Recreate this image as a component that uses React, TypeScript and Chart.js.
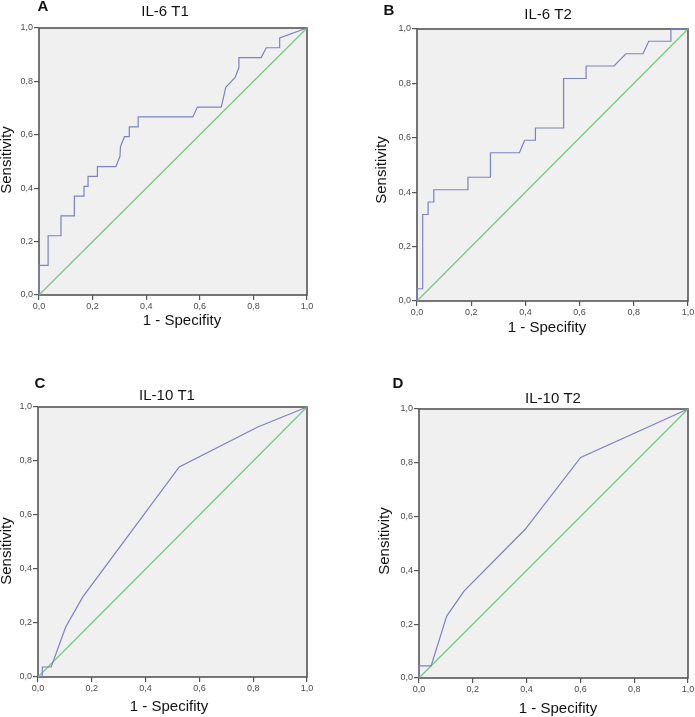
import React, { useEffect, useRef } from 'react';
import { Chart, registerables } from 'chart.js';

Chart.register(...registerables);

// ---------- data ----------
const tickLabels = ['0,0', '0,2', '0,4', '0,6', '0,8', '1,0'];
const panelLetters = ['A', 'B', 'C', 'D'];
const panelTitles = ['IL-6 T1', 'IL-6 T2', 'IL-10 T1', 'IL-10 T2'];
const xAxisTitle = '1 - Specifity';
const yAxisTitle = 'Sensitivity';

const refX = [0, 1];
const refY = [0, 1];

const il6T1X = [0, 0, 0.034, 0.034, 0.082, 0.082, 0.132, 0.132, 0.168, 0.168, 0.183, 0.183, 0.218, 0.218, 0.287, 0.302, 0.304, 0.319, 0.337, 0.337, 0.37, 0.37, 0.574, 0.591, 0.68, 0.697, 0.732, 0.746, 0.746, 0.829, 0.848, 0.898, 0.898, 1];
const il6T1Y = [0, 0.111, 0.111, 0.222, 0.222, 0.296, 0.296, 0.37, 0.37, 0.407, 0.407, 0.444, 0.444, 0.481, 0.481, 0.519, 0.556, 0.593, 0.593, 0.63, 0.63, 0.667, 0.667, 0.704, 0.704, 0.778, 0.815, 0.852, 0.889, 0.889, 0.926, 0.926, 0.963, 1];

const il6T2X = [0, 0, 0.021, 0.021, 0.041, 0.041, 0.062, 0.062, 0.188, 0.188, 0.271, 0.271, 0.378, 0.397, 0.437, 0.437, 0.541, 0.541, 0.624, 0.624, 0.727, 0.771, 0.834, 0.855, 0.937, 0.937, 1];
const il6T2Y = [0, 0.045, 0.045, 0.318, 0.318, 0.364, 0.364, 0.409, 0.409, 0.455, 0.455, 0.545, 0.545, 0.591, 0.591, 0.636, 0.636, 0.818, 0.818, 0.864, 0.864, 0.909, 0.909, 0.955, 0.955, 1, 1];

const il10T1X = [0, 0.016, 0.016, 0.049, 0.103, 0.166, 0.525, 0.817, 1];
const il10T1Y = [0, 0, 0.037, 0.037, 0.185, 0.296, 0.778, 0.926, 1];

const il10T2X = [0, 0, 0.045, 0.103, 0.168, 0.394, 0.601, 1];
const il10T2Y = [0, 0.045, 0.045, 0.23, 0.324, 0.552, 0.82, 1];

const curvesX = [il6T1X, il6T2X, il10T1X, il10T2X];
const curvesY = [il6T1Y, il6T2Y, il10T1Y, il10T2Y];

// ---------- layout ----------
const W = 695;
const H = 717;
const layouts = [
  { l: 39, t: 28, r: 307, b: 295, yTitle: [7, 160], xTitle: [182, 321], letter: [43, 7], title: [165, 12] },
  { l: 417, t: 29, r: 688, b: 301, yTitle: [382, 170], xTitle: [547, 328], letter: [389, 11], title: [548, 15] },
  { l: 38, t: 407, r: 307, b: 677, yTitle: [7, 551], xTitle: [169, 707], letter: [40, 384], title: [167, 396] },
  { l: 419, t: 409, r: 688, b: 678, yTitle: [385, 541], xTitle: [558, 709], letter: [398, 384], title: [553, 399] },
];

const FONT = "'Liberation Sans', Arial, sans-serif";
const BLUE = '#7b82c2';
const GREEN = '#74c97c';
const FRAME = '#555555';
const TICK_BOX = 20;

const decorPlugin = {
  id: 'decor',
  beforeDraw(chart: any) {
    const { ctx, chartArea: a } = chart;
    ctx.save();
    ctx.fillStyle = '#f0f0f0';
    ctx.fillRect(a.left, a.top, a.right - a.left, a.bottom - a.top);
    ctx.restore();
  },
  beforeDatasetsDraw(chart: any) {
    const { ctx, chartArea: a } = chart;
    ctx.save();
    ctx.strokeStyle = FRAME;
    ctx.lineWidth = 1.6;
    ctx.strokeRect(a.left, a.top, a.right - a.left, a.bottom - a.top);
    ctx.restore();
  },
  afterDraw(chart: any, _a: any, opts: any) {
    const { ctx } = chart;
    ctx.save();
    ctx.textAlign = 'center';
    ctx.textBaseline = 'middle';
    ctx.fillStyle = '#111';
    ctx.font = `bold 15px ${FONT}`;
    ctx.fillText(opts.letter, opts.letterPos[0], opts.letterPos[1]);
    ctx.font = `15px ${FONT}`;
    ctx.fillText(opts.title, opts.titlePos[0], opts.titlePos[1]);
    ctx.fillText(opts.xTitle, opts.xTitlePos[0], opts.xTitlePos[1]);
    ctx.translate(opts.yTitlePos[0], opts.yTitlePos[1]);
    ctx.rotate(-Math.PI / 2);
    ctx.fillText(opts.yTitle, 0, 0);
    ctx.restore();
  },
};

function makeConfig(i: number) {
  const L = layouts[i];
  const pts = curvesX[i].map((x, k) => ({ x, y: curvesY[i][k] }));
  const diag = refX.map((x, k) => ({ x, y: refY[k] }));
  const tickCb = (v: any) => {
    const idx = Math.round(Number(v) / 0.2);
    return Math.abs(Number(v) - idx * 0.2) < 1e-6 ? tickLabels[idx] : '';
  };
  const commonScale = {
    type: 'linear',
    min: 0,
    max: 1,
    border: { display: false },
    grid: { drawOnChartArea: false, drawTicks: true, tickLength: 5, color: FRAME, lineWidth: 1.2 },
    ticks: { stepSize: 0.2, padding: 1, color: '#4a4a4a', font: { family: FONT, size: 9 }, callback: tickCb, autoSkip: false },
    title: { display: false },
  };
  return {
    type: 'scatter',
    data: {
      datasets: [
        { data: diag, showLine: true, borderColor: GREEN, borderWidth: 1.2, pointRadius: 0, clip: false, order: 2 },
        { data: pts, showLine: true, borderColor: BLUE, borderWidth: 1.2, pointRadius: 0, clip: false, order: 1 },
      ],
    },
    options: {
      responsive: false,
      animation: false,
      events: [],
      layout: {
        padding: { left: L.l - TICK_BOX, top: L.t, right: W - L.r, bottom: H - L.b - TICK_BOX },
      },
      plugins: {
        legend: { display: false },
        tooltip: { enabled: false },
        title: { display: false },
        decor: {
          letter: panelLetters[i],
          title: panelTitles[i],
          xTitle: xAxisTitle,
          yTitle: yAxisTitle,
          letterPos: L.letter,
          titlePos: L.title,
          xTitlePos: L.xTitle,
          yTitlePos: L.yTitle,
        },
      },
      scales: {
        x: {
          ...commonScale,
          position: 'bottom',
          afterFit: (s: any) => { s.height = TICK_BOX; s.paddingLeft = 0; s.paddingRight = 0; },
        },
        y: {
          ...commonScale,
          position: 'left',
          afterFit: (s: any) => { s.width = TICK_BOX; s.paddingTop = 0; s.paddingBottom = 0; },
        },
      },
    },
    plugins: [decorPlugin],
  };
}

function Panel({ index }: { index: number }) {
  const ref = useRef<HTMLCanvasElement>(null);
  useEffect(() => {
    const chart = new Chart(ref.current as HTMLCanvasElement, makeConfig(index) as any);
    return () => chart.destroy();
  }, [index]);
  return (
    <canvas
      ref={ref}
      width={W}
      height={H}
      style={{ position: 'absolute', left: 0, top: 0, width: W, height: H }}
    />
  );
}

export default function App() {
  return (
    <div style={{ position: 'fixed', left: 0, top: 0, width: W, height: H, background: '#ffffff' }}>
      {[0, 1, 2, 3].map((i) => (
        <Panel key={i} index={i} />
      ))}
    </div>
  );
}
